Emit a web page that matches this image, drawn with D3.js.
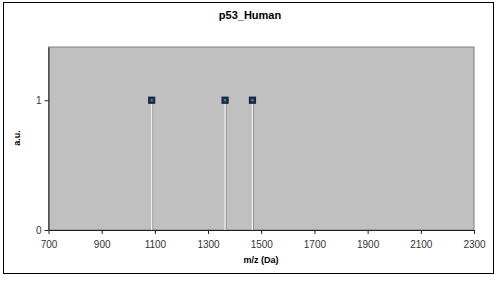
<!DOCTYPE html>
<html lang="en">
<head>
  <meta charset="UTF-8">
  <title>p53_Human</title>
  <style>
    body { margin: 0; background: white; }
    text { font-family: Arial, "Liberation Sans", sans-serif; }
  </style>
</head>
<body>
<div id="chart"></div>
<script src="https://d3js.org/d3.v7.min.js"></script>
<script>
  const peakMass = [1088, 1364, 1467];
  const peakIntensity = [1, 1, 1];
  const xTicks = [700, 900, 1100, 1300, 1500, 1700, 1900, 2100, 2300];
  const yTicks = [0, 1];

  const width = 500, height = 288;
  const plot = { left: 48.5, top: 47, right: 474, bottom: 230 };

  const svg = d3.select("#chart").append("svg")
    .attr("width", width)
    .attr("height", height);

  // outer frame
  svg.append("rect")
    .attr("x", 3.5).attr("y", 2.5)
    .attr("width", 490).attr("height", 271)
    .attr("fill", "white").attr("stroke", "black");

  const x = d3.scaleLinear().domain([700, 2300]).range([plot.left, plot.right]);
  const y = d3.scaleLinear().domain([0, 1.41]).range([plot.bottom, plot.top]);

  svg.append("rect")
    .attr("x", plot.left).attr("y", plot.top)
    .attr("width", plot.right - plot.left).attr("height", plot.bottom - plot.top)
    .attr("fill", "#c0c0c0").attr("stroke", "#808080");

  const xAxis = svg.append("g")
    .attr("transform", `translate(0,${plot.bottom})`)
    .call(d3.axisBottom(x).tickValues(xTicks).tickSize(4).tickSizeOuter(0).tickFormat(d3.format("d")));
  const yAxis = svg.append("g")
    .attr("transform", `translate(${plot.left},0)`)
    .call(d3.axisLeft(y).tickValues(yTicks).tickSize(4).tickSizeOuter(0).tickFormat(d3.format("d")));

  [xAxis, yAxis].forEach(a => {
    a.select(".domain").attr("stroke", "#222");
    a.selectAll(".tick line").attr("stroke", "#222");
    a.selectAll(".tick text").attr("fill", "#333").style("font-size", "10px");
  });
  xAxis.selectAll(".tick text").attr("dy", "1.1em");

  const peaks = peakMass.map((m, i) => ({ m, v: peakIntensity[i] }));

  // stems
  svg.selectAll(".stem-shadow").data(peaks).enter().append("line")
    .attr("x1", d => x(d.m) + 1).attr("x2", d => x(d.m) + 1)
    .attr("y1", d => y(d.v)).attr("y2", plot.bottom)
    .attr("stroke", "#8a8a8a").attr("stroke-width", 1);
  svg.selectAll(".stem").data(peaks).enter().append("line")
    .attr("x1", d => x(d.m)).attr("x2", d => x(d.m))
    .attr("y1", d => y(d.v)).attr("y2", plot.bottom)
    .attr("stroke", "#f4f4f4").attr("stroke-width", 1.2);

  // markers: dark navy square with a teal centre
  svg.selectAll(".marker").data(peaks).enter().append("rect")
    .attr("x", d => x(d.m) - 3).attr("y", d => y(d.v) - 3)
    .attr("width", 6).attr("height", 6)
    .attr("fill", "#1d3550").attr("stroke", "#18203f").attr("stroke-width", 1.2);
  svg.selectAll(".marker-dot").data(peaks).enter().append("rect")
    .attr("x", d => x(d.m) - 1).attr("y", d => y(d.v) - 1)
    .attr("width", 2).attr("height", 2)
    .attr("fill", "#2aa08a");

  svg.append("text")
    .attr("x", 250).attr("y", 19)
    .attr("text-anchor", "middle")
    .style("font-size", "11px").style("font-weight", "bold")
    .text("p53_Human");

  svg.append("text")
    .attr("x", 261).attr("y", 263)
    .attr("text-anchor", "middle")
    .style("font-size", "9px").style("font-weight", "bold")
    .text("m/z (Da)");

  svg.append("text")
    .attr("transform", "translate(20,138) rotate(-90)")
    .attr("text-anchor", "middle")
    .style("font-size", "9px").style("font-weight", "bold")
    .text("a.u.");
</script>
</body>
</html>
